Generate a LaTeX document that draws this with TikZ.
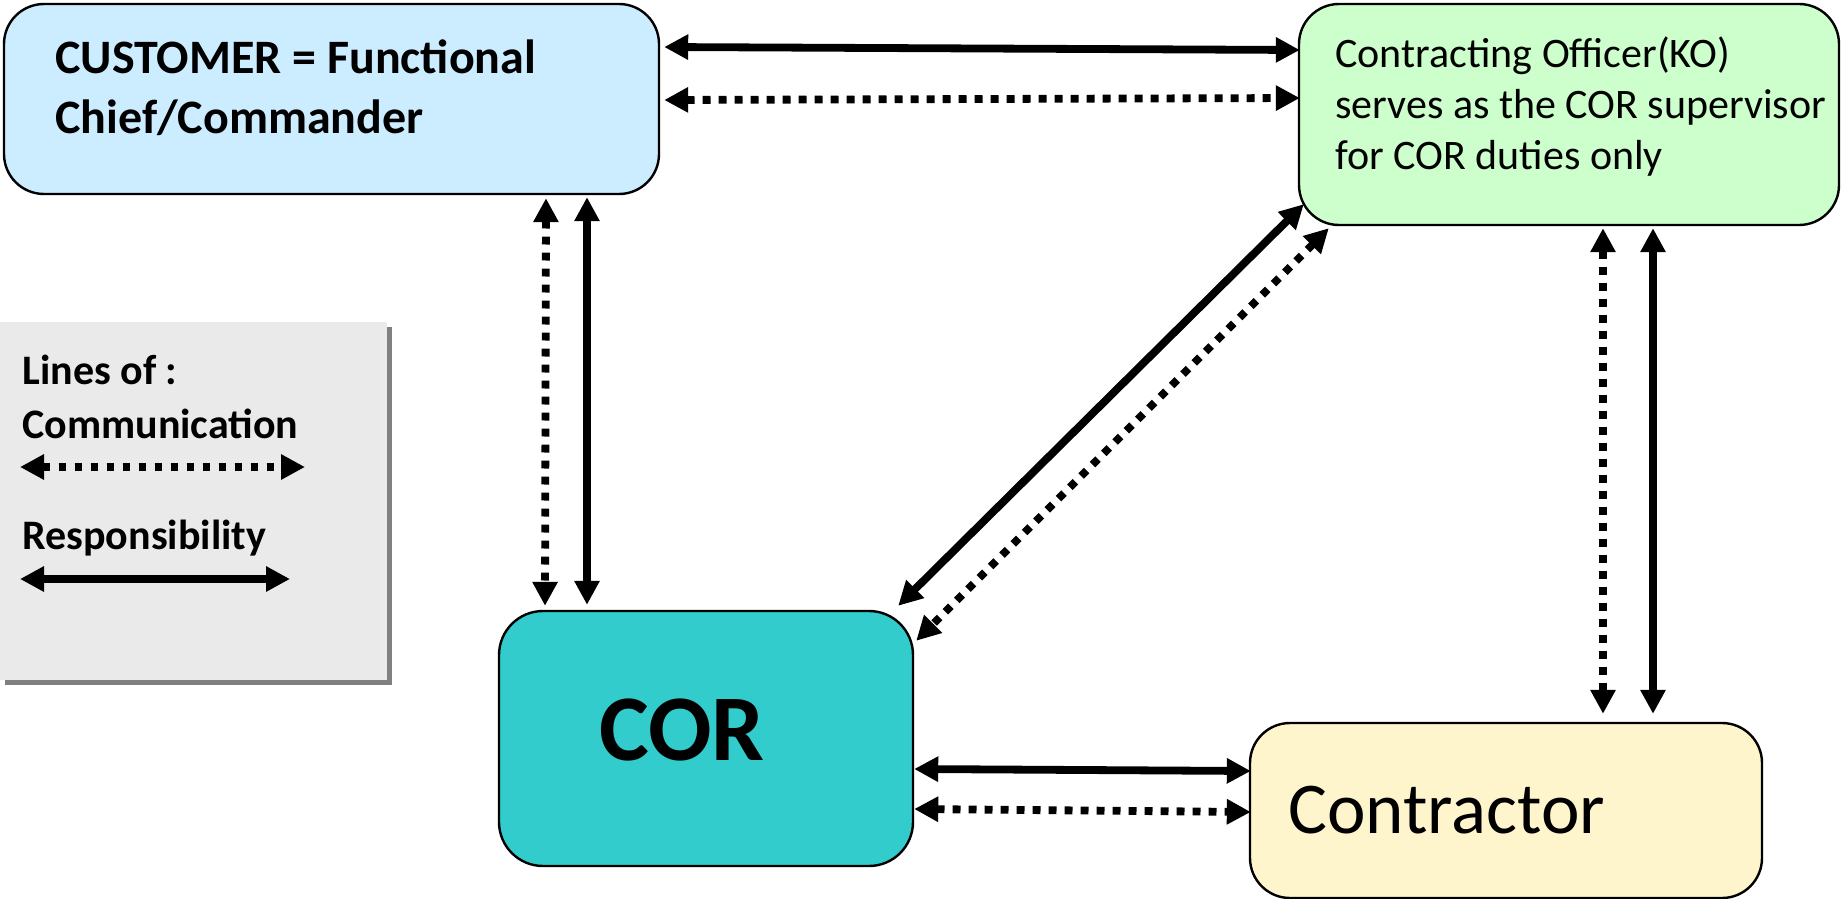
\documentclass[tikz,border=0pt]{standalone}
\usepackage{fontspec}
\setmainfont{Carlito}
\usepackage{tikz}
\usetikzlibrary{%
  positioning
 ,arrows.meta
 ,calc
 ,shadows
}
\definecolor{custblue}{HTML}{CCECFF}
\definecolor{kogreen}{HTML}{CCFFCC}
\definecolor{corteal}{HTML}{33CCCC}
\definecolor{contryellow}{HTML}{FFF5CC}
\definecolor{legendgray}{HTML}{EAEAEA}
\tikzstyle{party}=[draw=black,line width=1.2pt,rounded corners=20pt,inner sep=0pt]
\tikzstyle{txt}=[inner sep=0pt,align=left]
\tikzstyle{resp}=[line width=3.9pt,{Triangle[length=12pt,width=12pt]}-{Triangle[length=12pt,width=12pt]}]
\tikzstyle{comm}=[resp,dash pattern=on 3.9pt off 4.1pt]

\begin{document}
\begin{tikzpicture}[x=0.5pt,y=-0.5pt]
  \useasboundingbox (0,0) rectangle (1841,899);
  % the boxes
  \node[party,fill=custblue,minimum width=327.5pt,minimum height=95pt](cust)at(331.5,99){};
  \node[party,fill=kogreen,minimum width=270pt,minimum height=110.5pt](ko)at(1569,114.5){};
  \node[party,fill=corteal,rounded corners=22pt,minimum width=207pt,minimum height=127.5pt](cor)at(706,738.5){};
  \node[party,fill=contryellow,minimum width=256pt,minimum height=87.5pt](contr)at(1506,810.5){};
  % the texts
  \node[txt,anchor=west,font=\bfseries\fontsize{24}{30}\selectfont](custtxt)at(55,88)
    {CUSTOMER = Functional\\Chief/Commander};
  \node[txt,anchor=west,font=\fontsize{21}{25.5}\selectfont](kotxt)at(1335,107)
    {Contracting Officer(KO)\\serves as the COR supervisor\\for COR duties only};
  \node[txt,font=\bfseries\fontsize{47}{56}\selectfont](cortxt)at(682,730){COR};
  \node[txt,anchor=west,font=\fontsize{36.5}{44}\selectfont](contrtxt)at(1288,810){Contractor};
  % the legend
  \node[fill=legendgray,inner sep=0pt,minimum width=193.5pt,minimum height=179pt,
    drop shadow={shadow xshift=2.5pt,shadow yshift=-2.5pt,fill=black!50,opacity=1}](legend)at(193.5,501){};
  \tikzstyle{lt}=[txt,anchor=west,font=\bfseries\fontsize{21}{25}\selectfont]
  \node[lt](lines)at(22,370){Lines of :};
  \node[lt](commtxt)at(22,424){Communication};
  \node[lt](resptxt)at(22,538){Responsibility};
  \coordinate(c1)at(20,467);\coordinate(c2)at(305,467);
  \coordinate(r1)at(20,579);\coordinate(r2)at(290,579);
  \draw[comm](c1)--(c2);
  \draw[resp](r1)--(r2);
  % the arrows
  \draw[resp]($(cust.east)+(4,-52)$)--($(ko.west)+(2,-64.5)$);
  \draw[comm]($(cust.east)+(4,1)$)--($(ko.west)+(2,-16.5)$);
  \draw[comm]($(cust.south)+(214.5,3)$)--($(cor.north)+(-161,-4)$);
  \draw[resp]($(cust.south)+(255.5,2)$)--($(cor.north)+(-119,-5)$);
  \draw[resp]($(ko.south west)+(6,-22)$)--($(cor.north east)+(-16,-4)$);
  \draw[comm]($(ko.south west)+(31,2)$)--($(cor.north east)+(2,31)$);
  \draw[resp]($(cor.east)+(0,30.5)$)--($(contr.west)+(2,-39.5)$);
  \draw[comm]($(cor.east)+(0,70.5)$)--($(contr.west)+(2,1.5)$);
  \draw[comm]($(ko.south)+(34,2)$)--($(contr.north)+(97,-8)$);
  \draw[resp]($(ko.south)+(84,2)$)--($(contr.north)+(147,-8)$);
\end{tikzpicture}
\end{document}
